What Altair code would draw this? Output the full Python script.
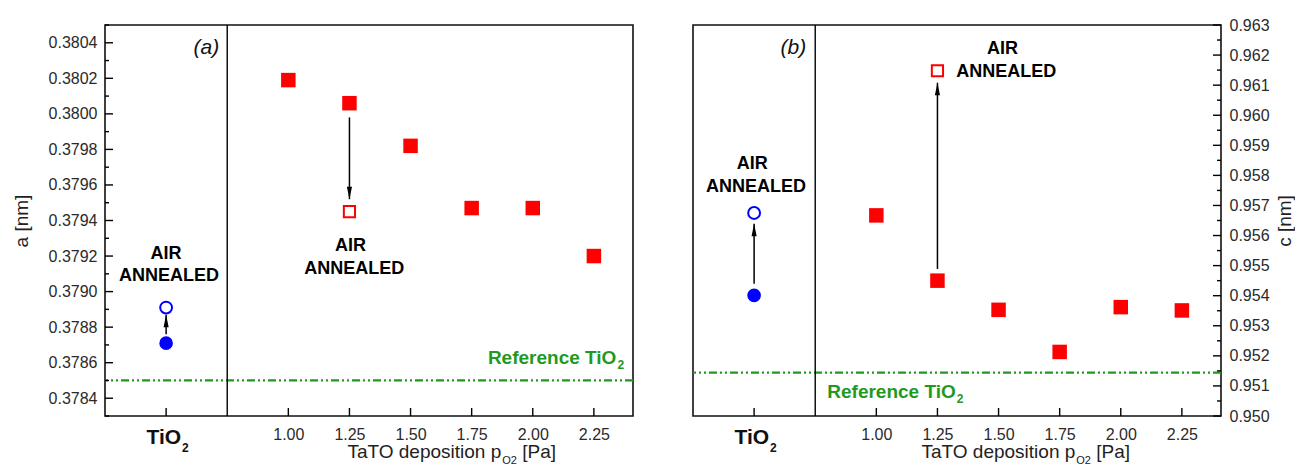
import altair as alt
import pandas as pd

FONT = "Liberation Sans"
RED = "#ff0000"
BLUE = "#0000ff"
GREEN = "#1f9a1f"
BLACK = "#000000"

# ---------------- data ----------------
pressure = [1.00, 1.25, 1.50, 1.75, 2.00, 2.25]
tio2_pos = [0.5]
divider_pos = [0.75]

# panel (a): lattice parameter a [nm]
a_tato = [0.38019, 0.38006, 0.37982, 0.37947, 0.37947, 0.37920]
a_tato_annealed_x = [1.25]
a_tato_annealed = [0.37945]
a_tio2 = [0.37871]
a_tio2_annealed = [0.37891]
a_ref = [0.3785]
a_arrow_x = [0.5, 1.25]
a_arrow_from = [0.37876, 0.37998]
a_arrow_to = [0.37887, 0.37952]
a_major = [0.3784, 0.3786, 0.3788, 0.3790, 0.3792, 0.3794, 0.3796, 0.3798, 0.3800, 0.3802, 0.3804]
a_minor = [0.3783, 0.3785, 0.3787, 0.3789, 0.3791, 0.3793, 0.3795, 0.3797, 0.3799, 0.3801, 0.3803, 0.3805]
a_domain = [0.3783, 0.3805]

# panel (b): lattice parameter c [nm]
c_tato = [0.95667, 0.95450, 0.95353, 0.95213, 0.95362, 0.95351]
c_tato_annealed_x = [1.25]
c_tato_annealed = [0.96148]
c_tio2 = [0.95401]
c_tio2_annealed = [0.95675]
c_ref = [0.95144]
c_arrow_x = [0.5, 1.25]
c_arrow_from = [0.95440, 0.95489]
c_arrow_to = [0.95639, 0.96108]
c_major = [0.950, 0.951, 0.952, 0.953, 0.954, 0.955, 0.956, 0.957, 0.958, 0.959, 0.960, 0.961, 0.962, 0.963]
c_minor = [0.9505, 0.9515, 0.9525, 0.9535, 0.9545, 0.9555, 0.9565, 0.9575, 0.9585, 0.9595, 0.9605, 0.9615, 0.9625]
c_domain = [0.950, 0.963]

# annotations (x, y in data units)
a_notes_x = [0.5, 0.512, 1.254, 1.27]
a_notes_y = [0.379214, 0.379085, 0.379259, 0.379128]
c_notes_x = [0.492, 0.508, 1.516, 1.531]
c_notes_y = [0.95837, 0.95762, 0.96219, 0.96145]
notes_text = ["AIR", "ANNEALED", "AIR", "ANNEALED"]

X_DOMAIN = [0.25, 2.41]
W, H = 528, 391

UP = "M-0.45,2.2L0.45,2.2L0,0Z"
DOWN = "M-0.45,-2.2L0.45,-2.2L0,0Z"


def build_panel(p):
    xs = alt.Scale(domain=X_DOMAIN, nice=False, zero=False)
    ys = alt.Scale(domain=p["domain"], nice=False, zero=False)
    xaxis = alt.Axis(values=pressure, format=".2f", title=None, ticks=False, tickSize=0,
                     domain=False, grid=False, labelPadding=10, labelFontSize=16,
                     labelColor="#2a2a2a", labelFont=FONT)
    extra = {"titleAngle": 270, "titleBaseline": "top"} if p["orient"] == "right" else {}
    yaxis = alt.Axis(values=p["major"], format=p["fmt"], title=p["title"], orient=p["orient"],
                     ticks=False, tickSize=0, domain=False, grid=False, labelPadding=8,
                     labelFontSize=16, labelColor="#2a2a2a", labelFont=FONT,
                     titleFont=FONT, titleFontSize=19, titleFontWeight="normal",
                     titleColor="#222222", titlePadding=p["titlePadding"], **extra)

    def X(f):
        return alt.X(f, type="quantitative", scale=xs, axis=xaxis)

    def Y(f):
        return alt.Y(f, type="quantitative", scale=ys, axis=yaxis)

    layers = []
    # reference line
    layers.append(alt.Chart(pd.DataFrame({"y": p["ref"]})).mark_rule(
        color=GREEN, strokeWidth=2.2, strokeDash=[8, 3, 2, 3, 2, 3]).encode(y=Y("y")))
    # divider
    layers.append(alt.Chart(pd.DataFrame({"x": divider_pos})).mark_rule(
        color=BLACK, strokeWidth=1.4).encode(x=X("x")))
    # inward y ticks
    x0 = 0 if p["orient"] == "left" else W
    sgn = 1 if p["orient"] == "left" else -1
    layers.append(alt.Chart(pd.DataFrame({"v": p["major"]})).mark_rule(
        color=BLACK, strokeWidth=1.4).encode(y=Y("v"), x=alt.value(x0), x2=alt.value(x0 + sgn * 8)))
    layers.append(alt.Chart(pd.DataFrame({"v": p["minor"]})).mark_rule(
        color=BLACK, strokeWidth=1.4).encode(y=Y("v"), x=alt.value(x0), x2=alt.value(x0 + sgn * 4)))
    # inward x ticks
    layers.append(alt.Chart(pd.DataFrame({"v": tio2_pos + pressure})).mark_rule(
        color=BLACK, strokeWidth=1.4).encode(x=X("v"), y=alt.value(H), y2=alt.value(H - 8)))
    # arrows
    arr = pd.DataFrame({"x": p["arrow_x"], "y0": p["arrow_from"], "y1": p["arrow_to"],
                        "shape": [UP if b > a else DOWN for a, b in zip(p["arrow_from"], p["arrow_to"])]})
    layers.append(alt.Chart(arr).mark_rule(color=BLACK, strokeWidth=1.5).encode(
        x=X("x"), y=Y("y0"), y2=alt.Y2("y1")))
    layers.append(alt.Chart(arr).mark_point(filled=True, color=BLACK, opacity=1, size=130).encode(
        x=X("x"), y=Y("y1"), shape=alt.Shape("shape:N", scale=None)))
    # data points
    layers.append(alt.Chart(pd.DataFrame({"x": pressure, "y": p["tato"]})).mark_square(
        color=RED, size=210, opacity=1).encode(x=X("x"), y=Y("y")))
    layers.append(alt.Chart(pd.DataFrame({"x": p["ann_x"], "y": p["ann"]})).mark_square(
        filled=False, color=RED, strokeWidth=2, size=125, opacity=1).encode(x=X("x"), y=Y("y")))
    layers.append(alt.Chart(pd.DataFrame({"x": tio2_pos, "y": p["tio2"]})).mark_circle(
        color=BLUE, size=185, opacity=1).encode(x=X("x"), y=Y("y")))
    layers.append(alt.Chart(pd.DataFrame({"x": tio2_pos, "y": p["tio2_ann"]})).mark_point(
        shape="circle", filled=False, color=BLUE, strokeWidth=2, size=140, opacity=1).encode(
        x=X("x"), y=Y("y")))
    # annotations
    layers.append(alt.Chart(pd.DataFrame({"x": p["notes_x"], "y": p["notes_y"], "t": notes_text})).mark_text(
        font=FONT, fontSize=18, fontWeight="bold", color=BLACK, align="center", baseline="middle").encode(
        x=X("x"), y=Y("y"), text="t:N"))
    layers.append(alt.Chart(pd.DataFrame({"x": [p["label_x"]], "y": [p["label_y"]], "t": [p["label"]]})).mark_text(
        font=FONT, fontSize=21, fontStyle="italic", color="#111111", align="right", baseline="middle").encode(
        x=X("x"), y=Y("y"), text="t:N"))
    # Reference TiO2
    ref_df = pd.DataFrame({"x": [p["reftext_x"]], "y": [p["reftext_y"]], "t": ["Reference TiO"], "s": ["2"]})
    layers.append(alt.Chart(ref_df).mark_text(
        font=FONT, fontSize=19, fontWeight="bold", color=GREEN, align="right", baseline="alphabetic").encode(
        x=X("x"), y=Y("y"), text="t:N"))
    layers.append(alt.Chart(ref_df).mark_text(
        font=FONT, fontSize=12, fontWeight="bold", color=GREEN, align="left", baseline="alphabetic",
        dx=1, dy=5).encode(x=X("x"), y=Y("y"), text="s:N"))
    # TiO2 category label
    tio_df = pd.DataFrame({"x": tio2_pos, "t": ["TiO"], "s": ["2"]})
    layers.append(alt.Chart(tio_df).mark_text(
        font=FONT, fontSize=21, fontWeight="bold", color="#111111", align="right", baseline="alphabetic",
        dx=15).encode(x=X("x"), y=alt.value(H + 28), text="t:N"))
    layers.append(alt.Chart(tio_df).mark_text(
        font=FONT, fontSize=12, fontWeight="bold", color="#111111", align="left", baseline="alphabetic",
        dx=16).encode(x=X("x"), y=alt.value(H + 36), text="s:N"))
    # x title with subscript
    tt = pd.DataFrame({"x": [p["xtitle_x"]], "a": ["TaTO deposition p"], "b": ["O2"], "c": ["[Pa]"]})
    layers.append(alt.Chart(tt).mark_text(
        font=FONT, fontSize=19, color="#222222", align="right", baseline="alphabetic").encode(
        x=X("x"), y=alt.value(H + 42), text="a:N"))
    layers.append(alt.Chart(tt).mark_text(
        font=FONT, fontSize=11, color="#222222", align="left", baseline="alphabetic", dx=1).encode(
        x=X("x"), y=alt.value(H + 48), text="b:N"))
    layers.append(alt.Chart(tt).mark_text(
        font=FONT, fontSize=19, color="#222222", align="left", baseline="alphabetic", dx=21).encode(
        x=X("x"), y=alt.value(H + 42), text="c:N"))

    return alt.layer(*layers).properties(width=W, height=H)


panel_a = build_panel(dict(
    domain=a_domain, major=a_major, minor=a_minor, fmt=".4f", title="a [nm]", orient="left",
    titlePadding=17, ref=a_ref, arrow_x=a_arrow_x, arrow_from=a_arrow_from, arrow_to=a_arrow_to,
    tato=a_tato, ann_x=a_tato_annealed_x, ann=a_tato_annealed, tio2=a_tio2, tio2_ann=a_tio2_annealed,
    notes_x=a_notes_x, notes_y=a_notes_y, label="(a)", label_x=0.717, label_y=0.38037,
    reftext_x=2.342, reftext_y=0.37859, xtitle_x=1.871))

panel_b = build_panel(dict(
    domain=c_domain, major=c_major, minor=c_minor, fmt=".3f", title="c [nm]", orient="right",
    titlePadding=6, ref=c_ref, arrow_x=c_arrow_x, arrow_from=c_arrow_from, arrow_to=c_arrow_to,
    tato=c_tato, ann_x=c_tato_annealed_x, ann=c_tato_annealed, tio2=c_tio2, tio2_ann=c_tio2_annealed,
    notes_x=c_notes_x, notes_y=c_notes_y, label="(b)", label_x=0.713, label_y=0.96225,
    reftext_x=1.325, reftext_y=0.95061, xtitle_x=1.814))

chart = alt.hconcat(panel_a, panel_b, spacing=60, bounds="flush").properties(
    padding={"left": 3, "top": 8, "right": 0, "bottom": 0}
).configure(font=FONT).configure_view(stroke="#111111", strokeWidth=1.6)

chart.save("out.html", embed_options={"renderer": "svg", "actions": False})
